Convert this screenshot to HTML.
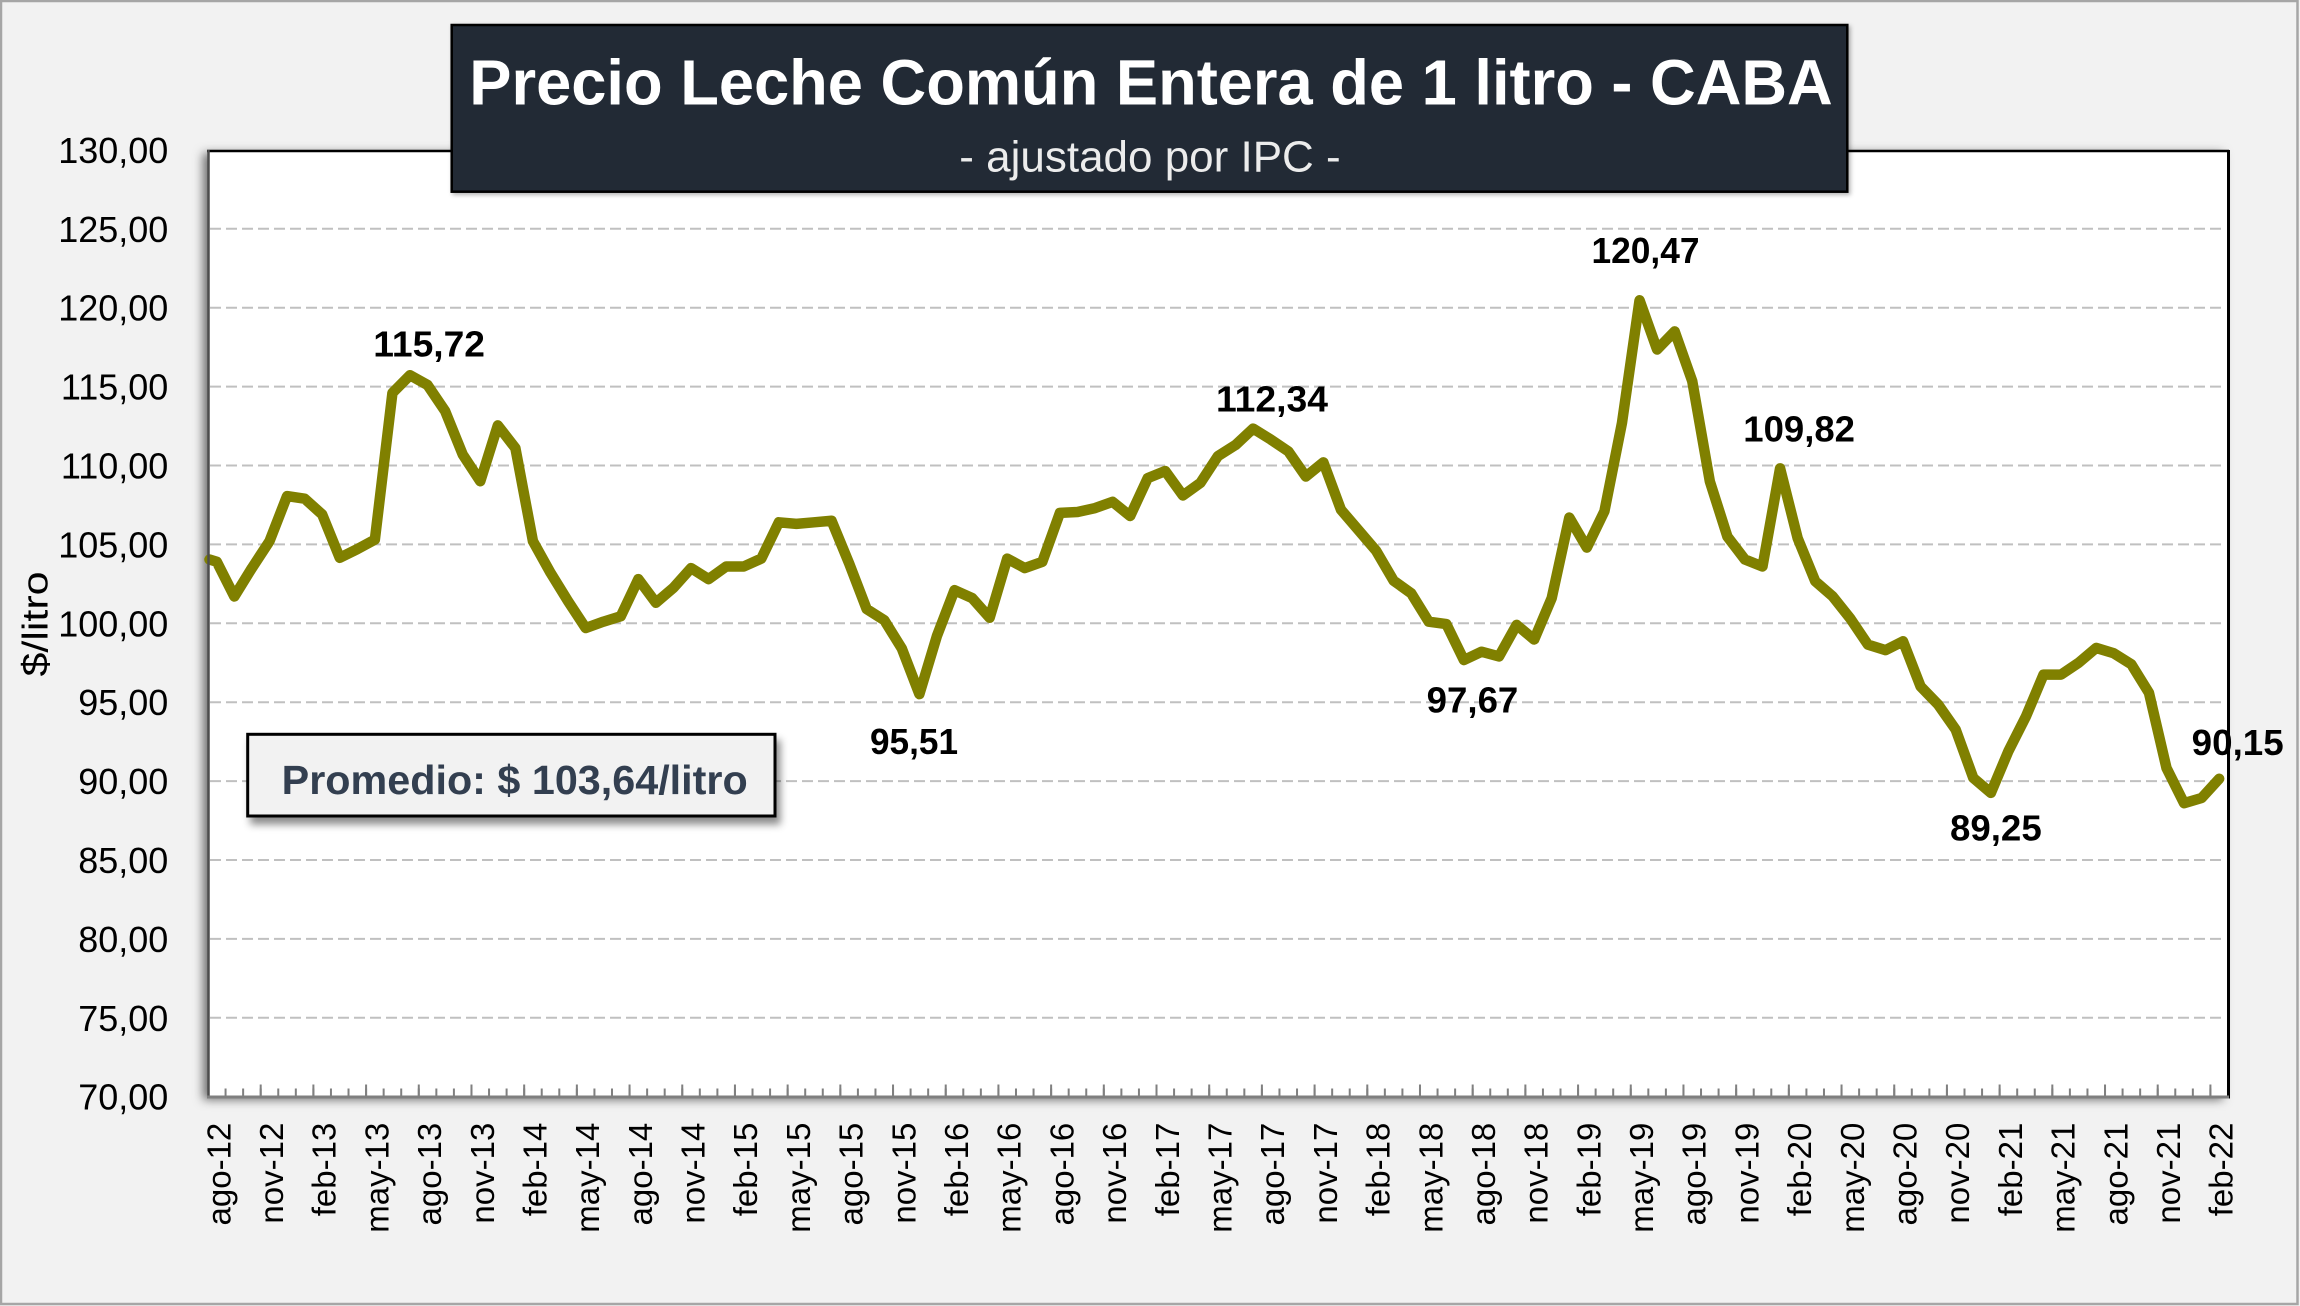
<!DOCTYPE html>
<html>
<head>
<meta charset="utf-8">
<style>
html,body{margin:0;padding:0;background:#f2f2f2;}
svg{display:block;}
text{font-family:"Liberation Sans", Arial, sans-serif;}
</style>
</head>
<body>
<svg xmlns="http://www.w3.org/2000/svg" width="2300" height="1306" viewBox="0 0 2300 1306">
  <defs>
    <filter id="plotShadow" x="-5%" y="-5%" width="110%" height="110%">
      <feDropShadow dx="-5" dy="3" stdDeviation="5" flood-color="#000" flood-opacity="0.55"/>
    </filter>
    <filter id="boxShadow" x="-10%" y="-20%" width="120%" height="150%">
      <feDropShadow dx="4" dy="7" stdDeviation="4" flood-color="#000" flood-opacity="0.45"/>
    </filter>
    <filter id="titleShadow" x="-5%" y="-10%" width="110%" height="120%">
      <feDropShadow dx="2" dy="2" stdDeviation="2" flood-color="#000" flood-opacity="0.3"/>
    </filter>
  </defs>

  <!-- outer background and frame -->
  <rect x="0" y="0" width="2300" height="1306" fill="#f2f2f2"/>
  <rect x="1" y="1" width="2296.5" height="1303" fill="none" stroke="#a6a6a6" stroke-width="2.5"/>

  <!-- plot area -->
  <rect x="208" y="150" width="2020" height="946.7" fill="#ffffff" filter="url(#plotShadow)"/>

  <!-- gridlines -->
  <g stroke="#c0c0c0" stroke-width="2" stroke-dasharray="11 5" fill="none">
    <line x1="210" y1="1017.8" x2="2226" y2="1017.8"/>
    <line x1="210" y1="938.9" x2="2226" y2="938.9"/>
    <line x1="210" y1="860.0" x2="2226" y2="860.0"/>
    <line x1="210" y1="781.1" x2="2226" y2="781.1"/>
    <line x1="210" y1="702.2" x2="2226" y2="702.2"/>
    <line x1="210" y1="623.3" x2="2226" y2="623.3"/>
    <line x1="210" y1="544.4" x2="2226" y2="544.4"/>
    <line x1="210" y1="465.5" x2="2226" y2="465.5"/>
    <line x1="210" y1="386.6" x2="2226" y2="386.6"/>
    <line x1="210" y1="307.7" x2="2226" y2="307.7"/>
    <line x1="210" y1="228.8" x2="2226" y2="228.8"/>
  </g>

  <!-- tick marks -->
  <line x1="224.565" y1="1092.5" x2="2228" y2="1092.5" stroke="#808080" stroke-width="8" stroke-dasharray="2 15.565"/>
  <line x1="259.695" y1="1090.5" x2="2228" y2="1090.5" stroke="#808080" stroke-width="12" stroke-dasharray="2 50.695"/>

  <!-- data line -->
  <polyline fill="none" stroke="#808000" stroke-width="10.5" stroke-linejoin="round" stroke-linecap="round"
    points="209.5,559.5 216.78,561.76 234.35,596.47 251.91,568.07 269.48,541.24 287.04,496.11 304.61,498.64 322.17,514.42 339.74,557.81 357.30,549.13 374.87,539.67 392.43,392.91 410.00,375.24 427.56,385.02 445.13,411.06 462.69,454.45 480.26,481.28 497.82,425.42 515.39,448.14 532.95,541.24 550.52,572.80 568.08,601.21 585.65,628.03 603.21,621.72 620.78,616.20 638.34,579.12 655.91,602.79 673.47,587.79 691.04,568.07 708.60,579.12 726.17,566.49 743.73,566.49 761.30,558.60 778.86,522.31 796.43,523.89 813.99,522.31 831.56,520.73 849.12,563.34 866.69,609.10 884.25,620.14 901.82,648.55 919.38,694.15 936.95,635.92 954.51,590.16 972.08,598.05 989.64,617.78 1007.21,558.60 1024.77,568.07 1042.34,561.76 1059.90,512.84 1077.47,512.05 1095.03,508.11 1112.60,501.79 1130.16,516.00 1147.73,478.12 1165.29,471.02 1182.86,495.48 1200.42,482.86 1217.99,456.03 1235.55,444.99 1253.12,428.57 1270.68,439.46 1288.25,451.30 1305.81,476.55 1323.38,462.34 1340.94,509.68 1358.51,530.20 1376.07,550.71 1393.64,580.69 1411.20,593.32 1428.77,621.72 1446.33,624.09 1463.90,660.07 1481.46,651.70 1499.03,656.44 1516.59,624.88 1534.16,639.55 1551.72,598.05 1569.29,517.57 1586.85,547.56 1604.42,511.26 1621.98,422.89 1639.55,300.28 1657.11,349.52 1674.68,331.37 1692.24,381.08 1709.81,481.28 1727.37,536.51 1744.94,559.55 1762.50,566.49 1780.07,468.34 1797.63,538.09 1815.20,581.17 1832.76,596.47 1850.33,618.57 1867.89,644.60 1885.46,650.13 1903.02,641.29 1920.59,686.42 1938.15,704.57 1955.72,729.66 1973.28,777.94 1990.85,792.93 2008.41,751.12 2025.98,716.40 2043.54,674.58 2061.11,674.58 2078.67,662.75 2096.24,647.92 2113.80,653.28 2131.37,664.33 2148.93,692.73 2166.50,768.00 2184.06,803.19 2201.63,797.98 2219.19,778.73"/>

  <!-- plot borders -->
  <line x1="207" y1="151" x2="2229" y2="151" stroke="#000" stroke-width="2.5"/>
  <line x1="208.5" y1="150" x2="208.5" y2="1097" stroke="#4d4d4d" stroke-width="2.5"/>
  <line x1="2228.5" y1="150" x2="2228.5" y2="1098.5" stroke="#000" stroke-width="3"/>
  <!-- bottom axis -->
  <line x1="207" y1="1097" x2="2229" y2="1097" stroke="#7f7f7f" stroke-width="3"/>

  <!-- data labels -->
  <g font-weight="bold" font-size="36" fill="#000">
    <text x="373.3" y="356.7" textLength="111.7" lengthAdjust="spacingAndGlyphs">115,72</text>
    <text x="1216" y="411.7" textLength="112" lengthAdjust="spacingAndGlyphs">112,34</text>
    <text x="1591.5" y="263" textLength="108" lengthAdjust="spacingAndGlyphs">120,47</text>
    <text x="1743.3" y="441.7" textLength="111.7" lengthAdjust="spacingAndGlyphs">109,82</text>
    <text x="870" y="754" textLength="88" lengthAdjust="spacingAndGlyphs">95,51</text>
    <text x="1426.7" y="712.7" textLength="91.6" lengthAdjust="spacingAndGlyphs">97,67</text>
    <text x="1950" y="840.7" textLength="91.7" lengthAdjust="spacingAndGlyphs">89,25</text>
    <text x="2191.7" y="755" textLength="92" lengthAdjust="spacingAndGlyphs">90,15</text>
  </g>

  <!-- y-axis labels -->
  <g font-size="36" fill="#000" text-anchor="end">
    <text x="168.3" y="1109.7">70,00</text>
    <text x="168.3" y="1030.8">75,00</text>
    <text x="168.3" y="951.9">80,00</text>
    <text x="168.3" y="873.0">85,00</text>
    <text x="168.3" y="794.1">90,00</text>
    <text x="168.3" y="715.2">95,00</text>
    <text x="168.3" y="636.3">100,00</text>
    <text x="168.3" y="557.4">105,00</text>
    <text x="168.3" y="478.5">110,00</text>
    <text x="168.3" y="399.6">115,00</text>
    <text x="168.3" y="320.7">120,00</text>
    <text x="168.3" y="241.8">125,00</text>
    <text x="168.3" y="162.9">130,00</text>
  </g>

  <!-- y-axis title -->
  <text transform="translate(47.7,624) rotate(-90)" text-anchor="middle" font-size="36" fill="#000" textLength="105" lengthAdjust="spacingAndGlyphs">$/litro</text>

  <!-- x-axis labels -->
  <g font-size="33" fill="#000" text-anchor="end">
    <text transform="translate(230.28,1122.7) rotate(-90)">ago-12</text>
    <text transform="translate(282.98,1122.7) rotate(-90)">nov-12</text>
    <text transform="translate(335.67,1122.7) rotate(-90)">feb-13</text>
    <text transform="translate(388.37,1122.7) rotate(-90)">may-13</text>
    <text transform="translate(441.06,1122.7) rotate(-90)">ago-13</text>
    <text transform="translate(493.76,1122.7) rotate(-90)">nov-13</text>
    <text transform="translate(546.45,1122.7) rotate(-90)">feb-14</text>
    <text transform="translate(599.15,1122.7) rotate(-90)">may-14</text>
    <text transform="translate(651.84,1122.7) rotate(-90)">ago-14</text>
    <text transform="translate(704.54,1122.7) rotate(-90)">nov-14</text>
    <text transform="translate(757.23,1122.7) rotate(-90)">feb-15</text>
    <text transform="translate(809.93,1122.7) rotate(-90)">may-15</text>
    <text transform="translate(862.62,1122.7) rotate(-90)">ago-15</text>
    <text transform="translate(915.32,1122.7) rotate(-90)">nov-15</text>
    <text transform="translate(968.01,1122.7) rotate(-90)">feb-16</text>
    <text transform="translate(1020.71,1122.7) rotate(-90)">may-16</text>
    <text transform="translate(1073.40,1122.7) rotate(-90)">ago-16</text>
    <text transform="translate(1126.10,1122.7) rotate(-90)">nov-16</text>
    <text transform="translate(1178.79,1122.7) rotate(-90)">feb-17</text>
    <text transform="translate(1231.49,1122.7) rotate(-90)">may-17</text>
    <text transform="translate(1284.18,1122.7) rotate(-90)">ago-17</text>
    <text transform="translate(1336.88,1122.7) rotate(-90)">nov-17</text>
    <text transform="translate(1389.57,1122.7) rotate(-90)">feb-18</text>
    <text transform="translate(1442.27,1122.7) rotate(-90)">may-18</text>
    <text transform="translate(1494.96,1122.7) rotate(-90)">ago-18</text>
    <text transform="translate(1547.66,1122.7) rotate(-90)">nov-18</text>
    <text transform="translate(1600.35,1122.7) rotate(-90)">feb-19</text>
    <text transform="translate(1653.05,1122.7) rotate(-90)">may-19</text>
    <text transform="translate(1705.74,1122.7) rotate(-90)">ago-19</text>
    <text transform="translate(1758.44,1122.7) rotate(-90)">nov-19</text>
    <text transform="translate(1811.13,1122.7) rotate(-90)">feb-20</text>
    <text transform="translate(1863.83,1122.7) rotate(-90)">may-20</text>
    <text transform="translate(1916.52,1122.7) rotate(-90)">ago-20</text>
    <text transform="translate(1969.22,1122.7) rotate(-90)">nov-20</text>
    <text transform="translate(2021.91,1122.7) rotate(-90)">feb-21</text>
    <text transform="translate(2074.61,1122.7) rotate(-90)">may-21</text>
    <text transform="translate(2127.30,1122.7) rotate(-90)">ago-21</text>
    <text transform="translate(2180.00,1122.7) rotate(-90)">nov-21</text>
    <text transform="translate(2232.69,1122.7) rotate(-90)">feb-22</text>
  </g>

  <!-- average box -->
  <rect x="247.7" y="734.3" width="527.3" height="81.7" fill="#f2f2f2" stroke="#000" stroke-width="3" filter="url(#boxShadow)"/>
  <text x="281.7" y="794" font-size="41" font-weight="bold" fill="#333f50" textLength="466" lengthAdjust="spacingAndGlyphs">Promedio: $ 103,64/litro</text>

  <!-- title box -->
  <rect x="451.7" y="25" width="1395.6" height="166.7" fill="#222935" stroke="#000" stroke-width="2.5" filter="url(#titleShadow)"/>
  <text x="469.3" y="104.3" font-size="64" font-weight="bold" fill="#ffffff" textLength="1363.4" lengthAdjust="spacingAndGlyphs">Precio Leche Común Entera de 1 litro - CABA</text>
  <text x="959.3" y="171.7" font-size="44" fill="#ececec" textLength="381.4" lengthAdjust="spacingAndGlyphs">- ajustado por IPC -</text>
</svg>
</body>
</html>
